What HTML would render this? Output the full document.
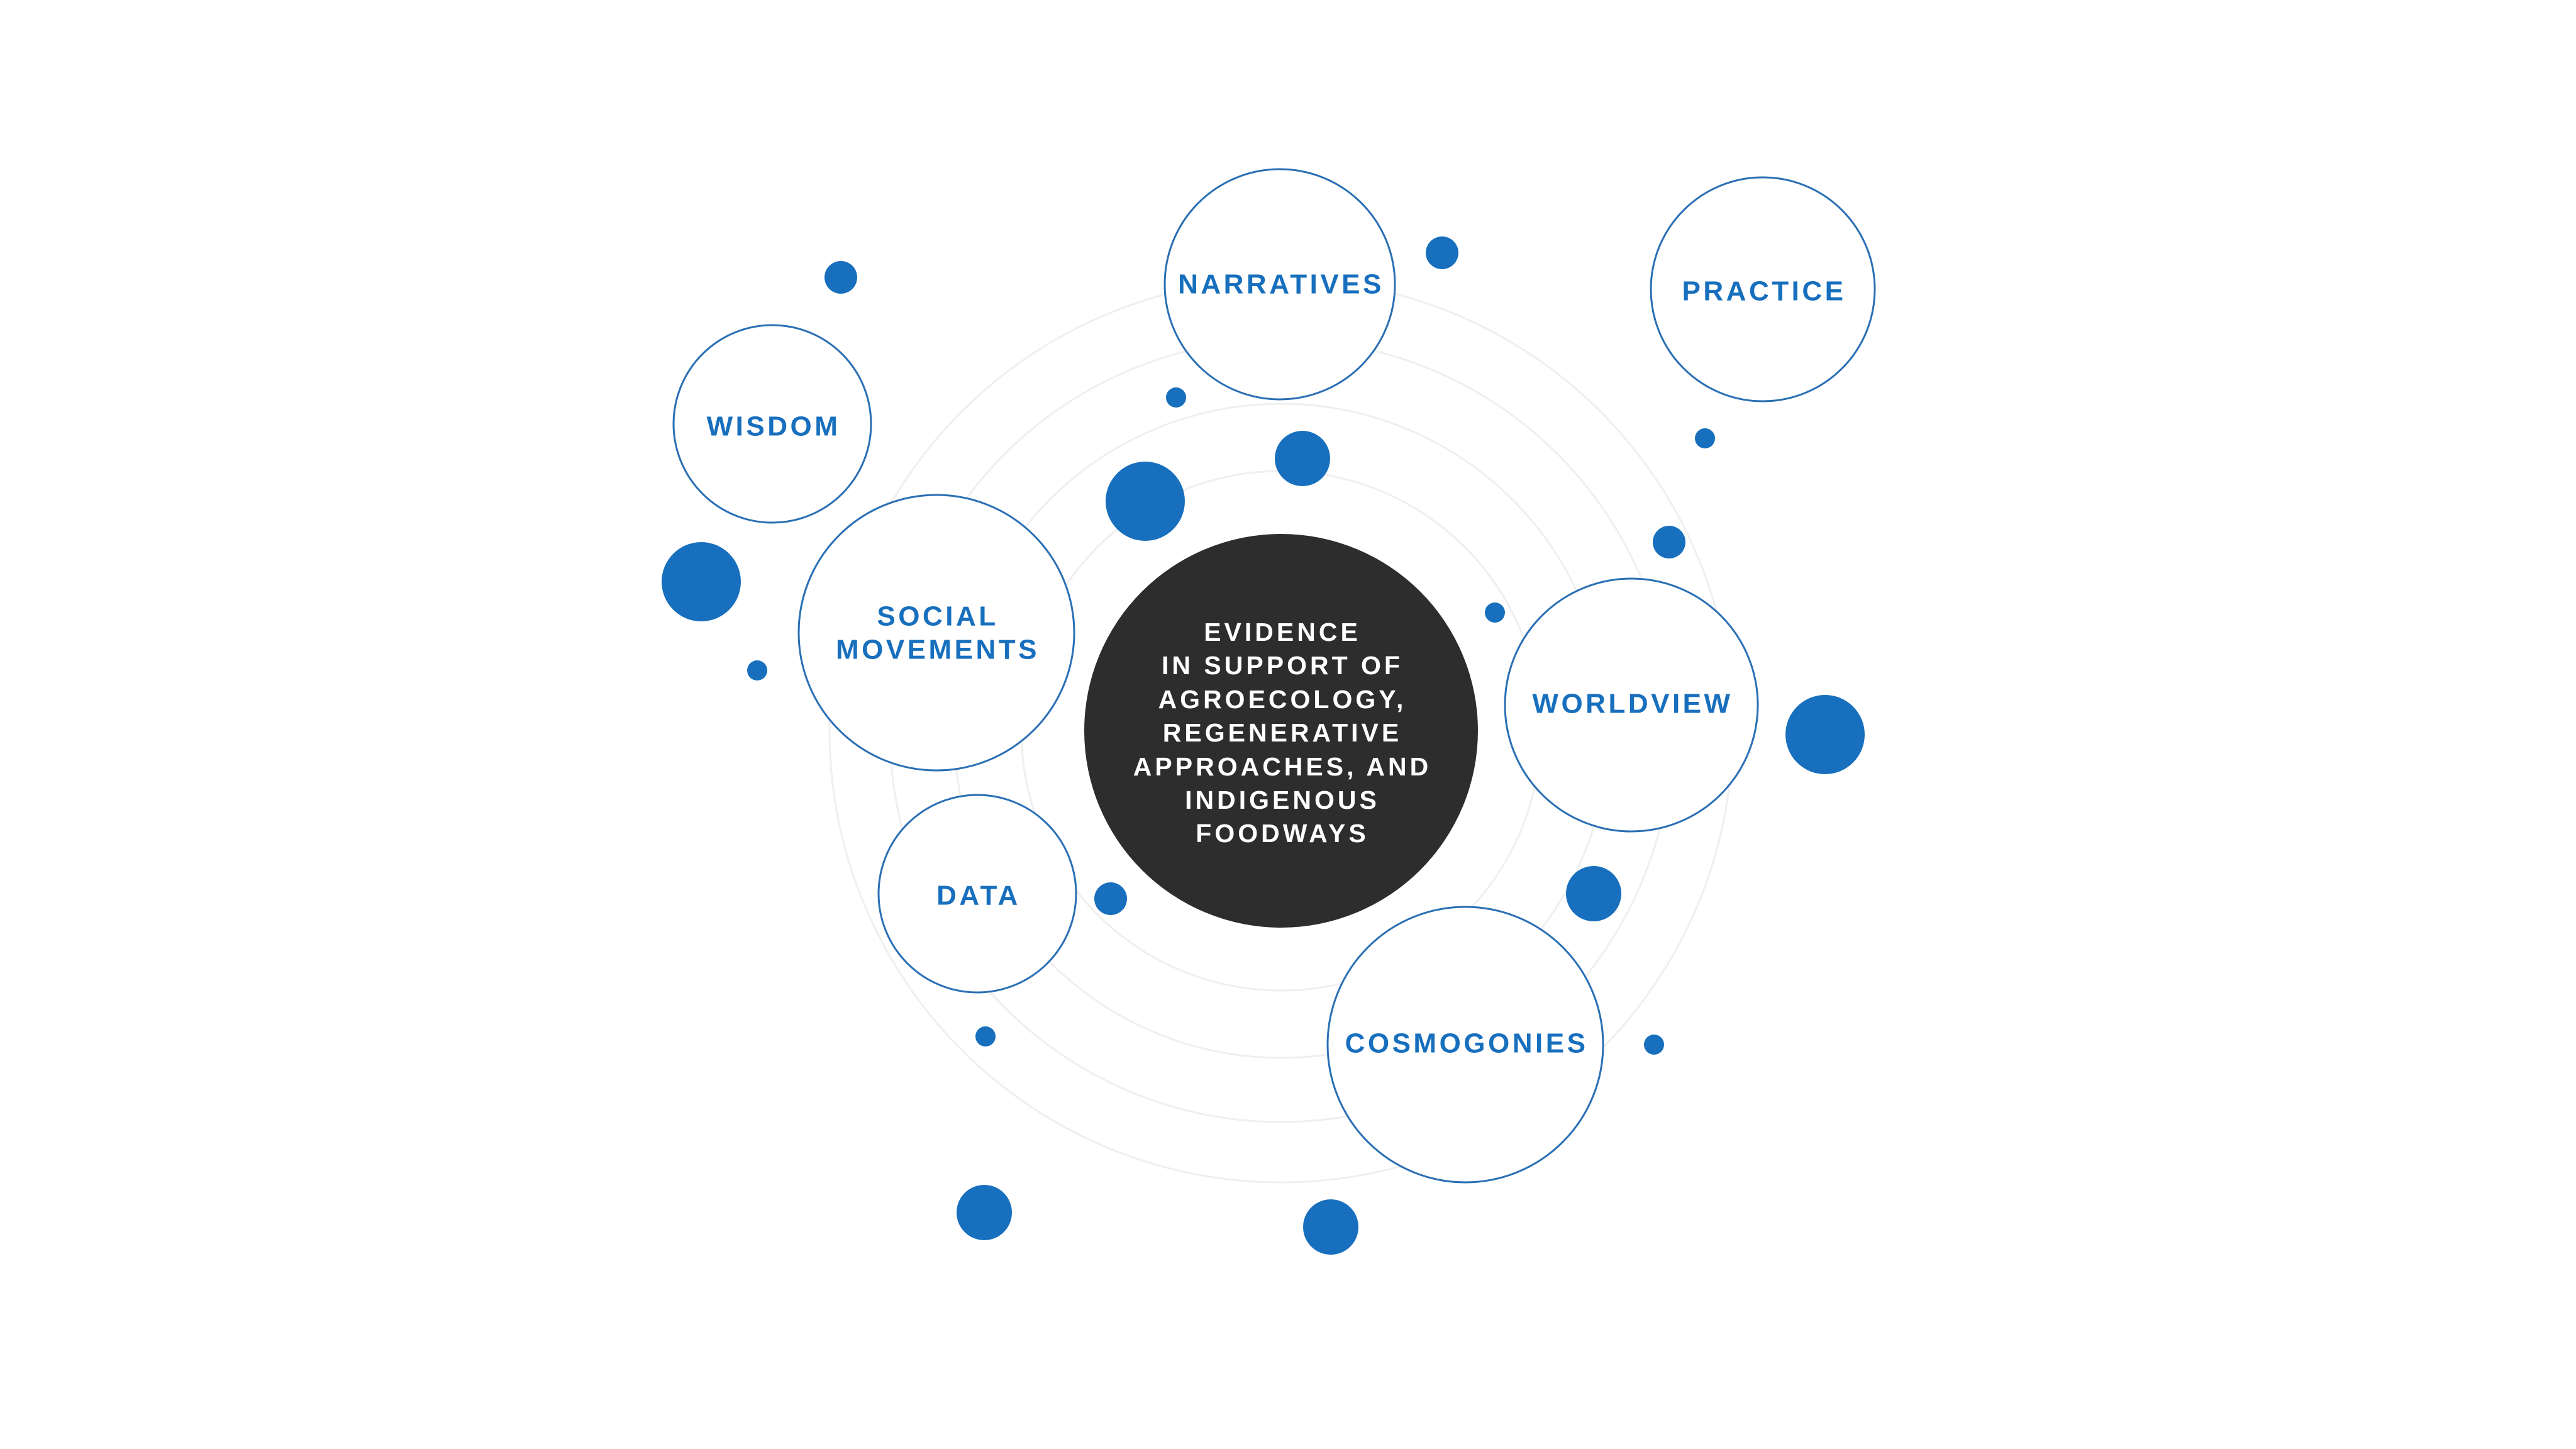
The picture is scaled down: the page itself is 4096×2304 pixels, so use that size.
<!DOCTYPE html>
<html><head><meta charset="utf-8"><style>
html,body{margin:0;padding:0;background:#fff;}
svg{display:block;}
text{font-family:"Liberation Sans",Arial,sans-serif;font-weight:bold;text-anchor:middle;dominant-baseline:central;}
.b{fill:#176fbd;font-size:44px;letter-spacing:4.5px;}
.w{fill:#fff;font-size:41px;letter-spacing:5px;}
</style></head><body>
<svg width="4096" height="2304" viewBox="0 0 4096 2304" xmlns="http://www.w3.org/2000/svg">
<g fill="none" stroke="#efefef" stroke-width="3">
<circle cx="2037" cy="1162" r="413"/>
<circle cx="2037" cy="1162" r="520"/>
<circle cx="2037" cy="1162" r="622"/>
<circle cx="2037" cy="1162" r="718"/>
</g>
<circle cx="2037" cy="1162" r="313" fill="#2d2d2d"/>
<g fill="#fff" stroke="#2a6fb4" stroke-width="3">
<circle cx="2035" cy="452" r="183"/>
<circle cx="2803" cy="460" r="178"/>
<circle cx="1228" cy="674" r="157"/>
<circle cx="1489" cy="1006" r="219"/>
<circle cx="2594" cy="1121" r="201"/>
<circle cx="1554" cy="1421" r="157"/>
<circle cx="2330" cy="1661" r="219"/>
</g>
<g fill="#176fbd">
<circle cx="1337" cy="441" r="26"/>
<circle cx="2293" cy="402" r="26"/>
<circle cx="1870" cy="632" r="16"/>
<circle cx="2071" cy="729" r="44"/>
<circle cx="1821" cy="797" r="63"/>
<circle cx="2711" cy="697" r="16"/>
<circle cx="2654" cy="862" r="26"/>
<circle cx="1115" cy="925" r="63"/>
<circle cx="1204" cy="1066" r="16"/>
<circle cx="2377" cy="974" r="16"/>
<circle cx="2902" cy="1168" r="63"/>
<circle cx="2534" cy="1421" r="44"/>
<circle cx="1766" cy="1429" r="26"/>
<circle cx="1567" cy="1648" r="16"/>
<circle cx="2630" cy="1661" r="16"/>
<circle cx="1565" cy="1928" r="44"/>
<circle cx="2116" cy="1951" r="44"/>
</g>
<g transform="translate(2,0)">
<text class="b" x="2035" y="452">NARRATIVES</text>
<text class="b" x="2803" y="463">PRACTICE</text>
<text class="b" x="1228" y="678">WISDOM</text>
<text class="b" x="1489" y="980">SOCIAL</text>
<text class="b" x="1489" y="1033">MOVEMENTS</text>
<text class="b" x="2594" y="1119">WORLDVIEW</text>
<text class="b" x="1554" y="1424">DATA</text>
<text class="b" x="2330" y="1659">COSMOGONIES</text>
<text class="w" x="2037" y="1005">EVIDENCE</text>
<text class="w" x="2037" y="1058">IN SUPPORT OF</text>
<text class="w" x="2037" y="1112">AGROECOLOGY,</text>
<text class="w" x="2037" y="1165">REGENERATIVE</text>
<text class="w" x="2037" y="1219">APPROACHES, AND</text>
<text class="w" x="2037" y="1272">INDIGENOUS</text>
<text class="w" x="2037" y="1325">FOODWAYS</text>
</g>
</svg>
</body></html>
